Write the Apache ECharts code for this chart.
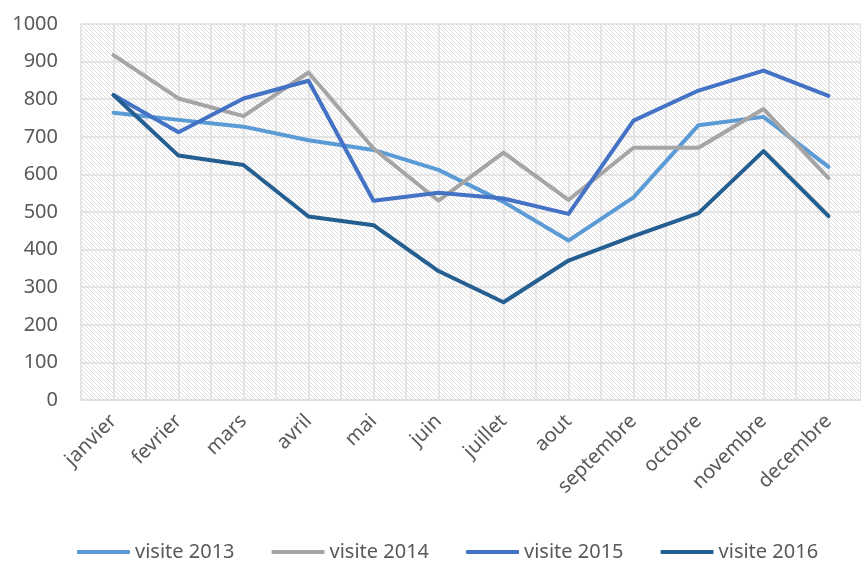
<!DOCTYPE html>
<html>
<head>
<meta charset="utf-8">
<script src="https://cdn.jsdelivr.net/npm/echarts@6/dist/echarts.min.js"></script>
<style>
  html, body { margin: 0; padding: 0; background: #fff; }
  #chart { width: 861px; height: 561px; }
</style>
</head>
<body>
<div id="chart"></div>
<script>
const months = ['janvier', 'fevrier', 'mars', 'avril', 'mai', 'juin', 'juillet', 'aout', 'septembre', 'octobre', 'novembre', 'decembre']
const visite2013 = [764, 745, 727, 691, 665, 612, 527, 424, 539, 731, 753, 620]
const visite2014 = [917, 802, 755, 871, 669, 530, 658, 532, 671, 671, 774, 590]
const visite2015 = [811, 712, 802, 849, 530, 551, 536, 495, 743, 823, 876, 809]
const visite2016 = [811, 650, 625, 488, 465, 343, 260, 371, 436, 497, 662, 489]

// hatch tile for the plot background
const makeHatch = () => {
  const c = document.createElement('canvas')
  c.width = 4
  c.height = 4
  const ctx = c.getContext('2d')
  ctx.fillStyle = '#ffffff'
  ctx.fillRect(0, 0, 4, 4)
  ctx.fillStyle = '#dddddd'
  for (let i = 0; i < 4; i++) ctx.fillRect(i, i, 1, 1)
  return c
}

const font = 'Noto Sans'
const textColor = '#595959'
const gridColor = '#dedede'

const chart = echarts.init(document.getElementById('chart'))

const line = (name, data, color) => ({
  name: name,
  type: 'line',
  data: data,
  symbol: 'none',
  xAxisIndex: 0,
  lineStyle: { color: color, width: 4, join: 'round', cap: 'round' },
  itemStyle: { color: color }
})

chart.setOption({
  animation: false,
  grid: {
    left: 81,
    top: 24,
    width: 786,
    height: 376,
    show: true,
    borderWidth: 0,
    backgroundColor: { image: makeHatch(), repeat: 'repeat' }
  },
  legend: {
    left: 72,
    top: 537,
    icon: 'roundRect',
    itemWidth: 53,
    itemHeight: 4,
    itemGap: 37,
    textStyle: { fontFamily: font, fontSize: 20, color: textColor },
    data: ['visite 2013', 'visite 2014', 'visite 2015', 'visite 2016']
  },
  xAxis: [
    {
      type: 'category',
      data: months,
      boundaryGap: true,
      axisLine: { lineStyle: { color: gridColor, width: 1.5 } },
      axisTick: { show: false },
      splitLine: { show: false },
      axisLabel: {
        rotate: 45,
        margin: 18,
        interval: 0,
        fontFamily: font,
        fontSize: 20,
        color: textColor
      }
    },
    {
      type: 'value',
      position: 'bottom',
      min: 0,
      max: 12,
      interval: 0.5,
      axisLine: { show: false },
      axisTick: { show: false },
      axisLabel: { show: false },
      splitLine: { show: true, lineStyle: { color: gridColor, width: 1.5 } }
    }
  ],
  yAxis: {
    type: 'value',
    min: 0,
    max: 1000,
    interval: 100,
    axisLine: { show: false },
    axisTick: { show: false },
    axisLabel: {
      margin: 23,
      fontFamily: font,
      fontSize: 20,
      color: textColor,
      formatter: v => String(v)
    },
    splitLine: { show: true, lineStyle: { color: gridColor, width: 1.5 } }
  },
  series: [
    line('visite 2013', visite2013, '#5b9bd5'),
    line('visite 2014', visite2014, '#a5a5a5'),
    line('visite 2015', visite2015, '#4472c4'),
    line('visite 2016', visite2016, '#255e91')
  ]
})
</script>
</body>
</html>
